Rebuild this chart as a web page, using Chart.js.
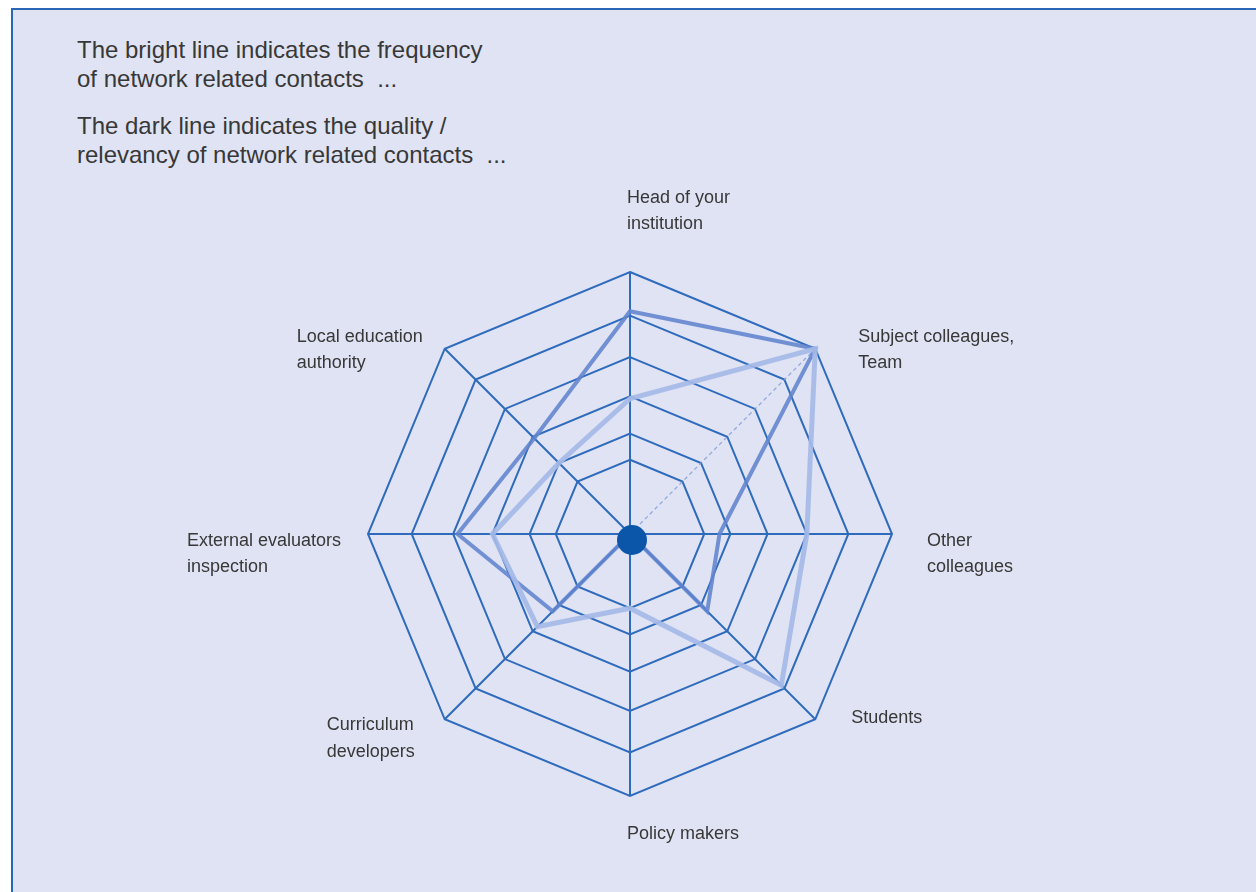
<!DOCTYPE html>
<html><head><meta charset="utf-8">
<script src="https://cdn.jsdelivr.net/npm/chart.js@4.4.0/dist/chart.umd.min.js"></script>
<style>
html,body{margin:0;padding:0;background:#fff;width:1256px;height:892px;overflow:hidden;}
#panel{position:absolute;left:11px;top:8px;width:1260px;height:900px;background:#dfe3f3;border-left:2px solid #2a67b4;border-top:2px solid #2a67b4;box-sizing:border-box;}
#c{position:absolute;left:0;top:0;}
.note{position:absolute;left:77px;font:24px "Liberation Sans",Arial,sans-serif;color:#383838;line-height:29px;white-space:pre;}
</style></head><body>
<div id="panel"></div>
<div class="note" style="top:35px">The bright line indicates the frequency
of network related contacts  ...</div>
<div class="note" style="top:111px">The dark line indicates the quality /
relevancy of network related contacts  ...</div>
<canvas id="c" width="1256" height="892"></canvas>
<script>
const categories = [["Head of your","institution"],["Subject colleagues,","Team"],["Other","colleagues"],["Students"],["Policy makers"],["Curriculum","developers"],["External evaluators","inspection"],["Local education","authority"]];
const frequency = [3.1, 6, 4.05, 4.9, 1.7, 3.0, 3.15, 2.3];    // bright line
const quality   = [5.1, 6, 2.05, 2.5, 0, 2.5, 3.95, 3.1];      // dark line
const ringTicks = [1.7, 2.3, 3.15, 4.05, 5.0, 6];
const scaleMin = 0, scaleMax = 6;

// label layout: offset of first line (left-aligned) from the outer vertex
const labelOffsets = [[-3,-74],[43,-12],[35,7],[36,-1],[-3,38],[-118,6],[-181,7],[-148,-12]];
const LINE_H = 26.5;

const centerDot = {
  id:'centerDot',
  afterDatasetsDraw(chart){
    const s = chart.scales.r, ctx = chart.ctx;
    ctx.save(); ctx.fillStyle = '#0b56a8';
    ctx.beginPath(); ctx.arc(s.xCenter+2, s.yCenter+6, 15, 0, Math.PI*2); ctx.fill(); ctx.restore();
  }
};
const pointLabelsPlugin = {
  id:'customPointLabels',
  afterDraw(chart){
    const s = chart.scales.r, ctx = chart.ctx;
    ctx.save();
    ctx.font = '18px "Liberation Sans", Arial, sans-serif';
    ctx.fillStyle = '#383838'; ctx.textAlign = 'left'; ctx.textBaseline = 'middle';
    categories.forEach((lines, i) => {
      const p = s.getPointPosition(i, s.getDistanceFromCenterForValue(scaleMax));
      const [dx, dy] = labelOffsets[i];
      lines.forEach((t, k) => ctx.fillText(t, p.x + dx, p.y + dy + k*LINE_H));
    });
    ctx.restore();
  }
};

new Chart(document.getElementById('c'), {
  type:'radar',
  data:{
    labels: categories,
    datasets:[
      {label:'Frequency', data:frequency, borderColor:'rgba(165,186,232,0.92)', borderWidth:5, fill:false, pointRadius:0, pointHoverRadius:0, tension:0},
      {label:'Quality / relevancy', data:quality, borderColor:'rgba(98,132,206,0.88)', borderWidth:4, fill:false, pointRadius:0, pointHoverRadius:0, tension:0}
    ]
  },
  options:{
    responsive:false, animation:false, devicePixelRatio:1,
    layout:{padding:{left:368, right:364, top:272, bottom:96}},
    plugins:{legend:{display:false}, tooltip:{enabled:false}},
    scales:{
      r:{
        min:scaleMin, max:scaleMax,
        afterBuildTicks:(sc)=>{ sc.ticks = [{value:scaleMin}].concat(ringTicks.map(v=>({value:v}))); },
        ticks:{display:false},
        pointLabels:{display:false},
        grid:{circular:false, color:'#2f6bbd', lineWidth:2},
        angleLines:{
          color:(c)=> c.index===1 ? 'rgba(120,150,215,0.8)' : '#2f6bbd',
          lineWidth:(c)=> c.index===1 ? 1.2 : 2,
          borderDash:(c)=> c.index===1 ? [4,3] : []
        }
      }
    }
  },
  plugins:[centerDot, pointLabelsPlugin]
});
</script>
</body></html>
